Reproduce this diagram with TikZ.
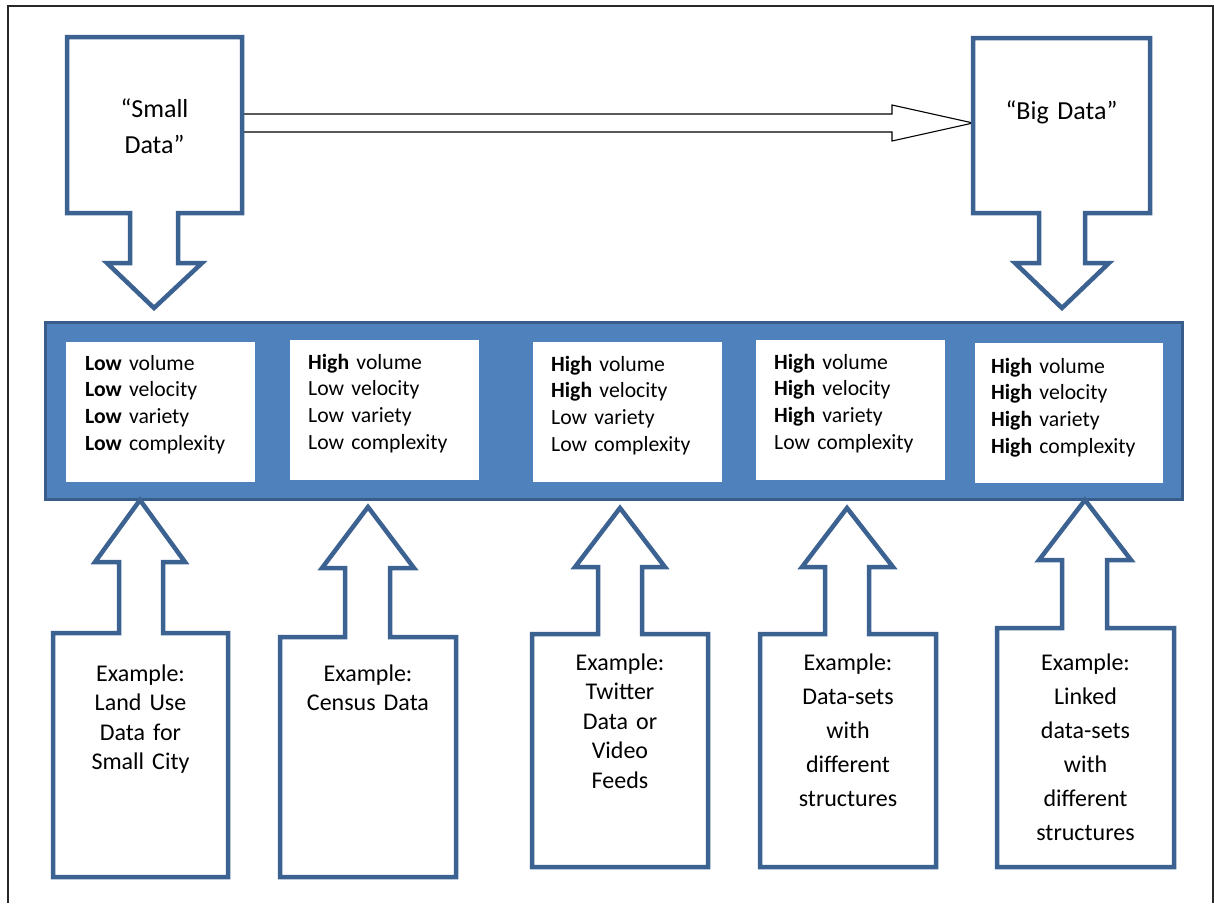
\documentclass[tikz,border=0pt]{standalone}
\usepackage{fontspec}
\setmainfont{Carlito}
\usetikzlibrary{calc}
\definecolor{boxblue}{RGB}{60,98,146}
\definecolor{barfill}{RGB}{79,129,189}
\definecolor{barline}{RGB}{56,93,138}
\definecolor{framegray}{RGB}{40,40,40}
\begin{document}
\begin{tikzpicture}[x=1pt,y=-1pt,
  outl/.style={draw=boxblue,line width=4.5pt,fill=white,line join=miter},
  bartext/.style={anchor=base west,inner sep=0pt,text width=180pt,align=left,font=\fontsize{21.7}{26.7}\selectfont},
  extext/.style={anchor=base,inner sep=0pt,text width=170pt,align=center,font=\fontsize{24}{29.5}\selectfont},
  extextw/.style={extext,font=\fontsize{24}{34}\selectfont},
  toptext/.style={anchor=base,inner sep=0pt,text width=170pt,align=center,font=\fontsize{26}{36.5}\selectfont},
  blockarrow/.style={draw=black,line width=1.1pt,fill=white,line join=miter}
]
\useasboundingbox (0,0) rectangle (1214,903);
% frame
\draw[framegray,line width=2pt] (8,903) -- (8,6) -- (1213,6) -- (1213,903);

% horizontal block arrow from Small to Big
\coordinate (hs) at (242,123);
\coordinate (ht) at (973,123);
\draw[blockarrow] ($(hs)+(0,-9)$) -- (892,114) -- (892,105) -- (ht) -- (892,141) -- (892,132) -- ($(hs)+(0,9)$) -- cycle;

% top callouts (down arrows)
\draw[outl] (67,37) -- (242,37) -- (242,213) -- (178,213) -- (178,263) -- (202,263) -- (154,308) -- (107,263) -- (130,263) -- (130,213) -- (67,213) -- cycle;
\draw[outl] (973,38) -- (1150,38) -- (1150,213) -- (1085,213) -- (1085,263) -- (1109,263) -- (1062,308) -- (1015,263) -- (1039,263) -- (1039,213) -- (973,213) -- cycle;
\node[toptext] (small) at (154.5,117) {“Small\\Data”};
\node[toptext] (big) at (1061.5,119) {“Big Data”};

% bar
\draw[fill=barfill,draw=barline,line width=3pt] (45,322) rectangle (1182,499);
\fill[white] (66,342) rectangle (255,482);
\fill[white] (290,340) rectangle (479,480);
\fill[white] (533,342) rectangle (722,482);
\fill[white] (756,340) rectangle (945,480);
\fill[white] (975,343) rectangle (1163,483);
\node[bartext] (t1) at (85,370) {\textbf{Low} volume\\\textbf{Low} velocity\\\textbf{Low} variety\\\textbf{Low} complexity};
\node[bartext] (t2) at (308,369) {\textbf{High} volume\\Low velocity\\Low variety\\Low complexity};
\node[bartext] (t3) at (551,371) {\textbf{High} volume\\\textbf{High} velocity\\Low variety\\Low complexity};
\node[bartext] (t4) at (774,369) {\textbf{High} volume\\\textbf{High} velocity\\\textbf{High} variety\\Low complexity};
\node[bartext] (t5) at (991,373) {\textbf{High} volume\\\textbf{High} velocity\\\textbf{High} variety\\\textbf{High} complexity};

% bottom callouts (up arrows)
\draw[outl] (53,877) -- (53,633) -- (119,633) -- (119,562) -- (95,562) -- (140,500) -- (185,562) -- (163,562) -- (163,633) -- (228,633) -- (228,877) -- cycle;
\draw[outl] (280,877) -- (280,637) -- (345,637) -- (345,568) -- (322,568) -- (368,507) -- (414,568) -- (390,568) -- (390,637) -- (456,637) -- (456,877) -- cycle;
\draw[outl] (532,867) -- (532,634) -- (598,634) -- (598,567) -- (575,567) -- (620,508) -- (665,567) -- (642,567) -- (642,634) -- (708,634) -- (708,867) -- cycle;
\draw[outl] (760,867) -- (760,634) -- (825,634) -- (825,567) -- (802,567) -- (847,508) -- (893,567) -- (869,567) -- (869,634) -- (936,634) -- (936,867) -- cycle;
\draw[outl] (997,867) -- (997,628) -- (1062,628) -- (1062,560) -- (1039,560) -- (1085,500) -- (1131,560) -- (1107,560) -- (1107,628) -- (1174,628) -- (1174,867) -- cycle;

\node[extext] (e1) at (140.5,681) {Example:\\Land Use\\Data for\\Small City};
\node[extext] (e2) at (368,681) {Example:\\Census Data};
\node[extext] (e3) at (620,670) {Example:\\Twitter\\Data or\\Video\\Feeds};
\node[extextw] (e4) at (848,670) {Example:\\Data-sets\\with\\different\\structures};
\node[extextw] (e5) at (1085.5,670) {Example:\\Linked\\data-sets\\with\\different\\structures};
\end{tikzpicture}
\end{document}
